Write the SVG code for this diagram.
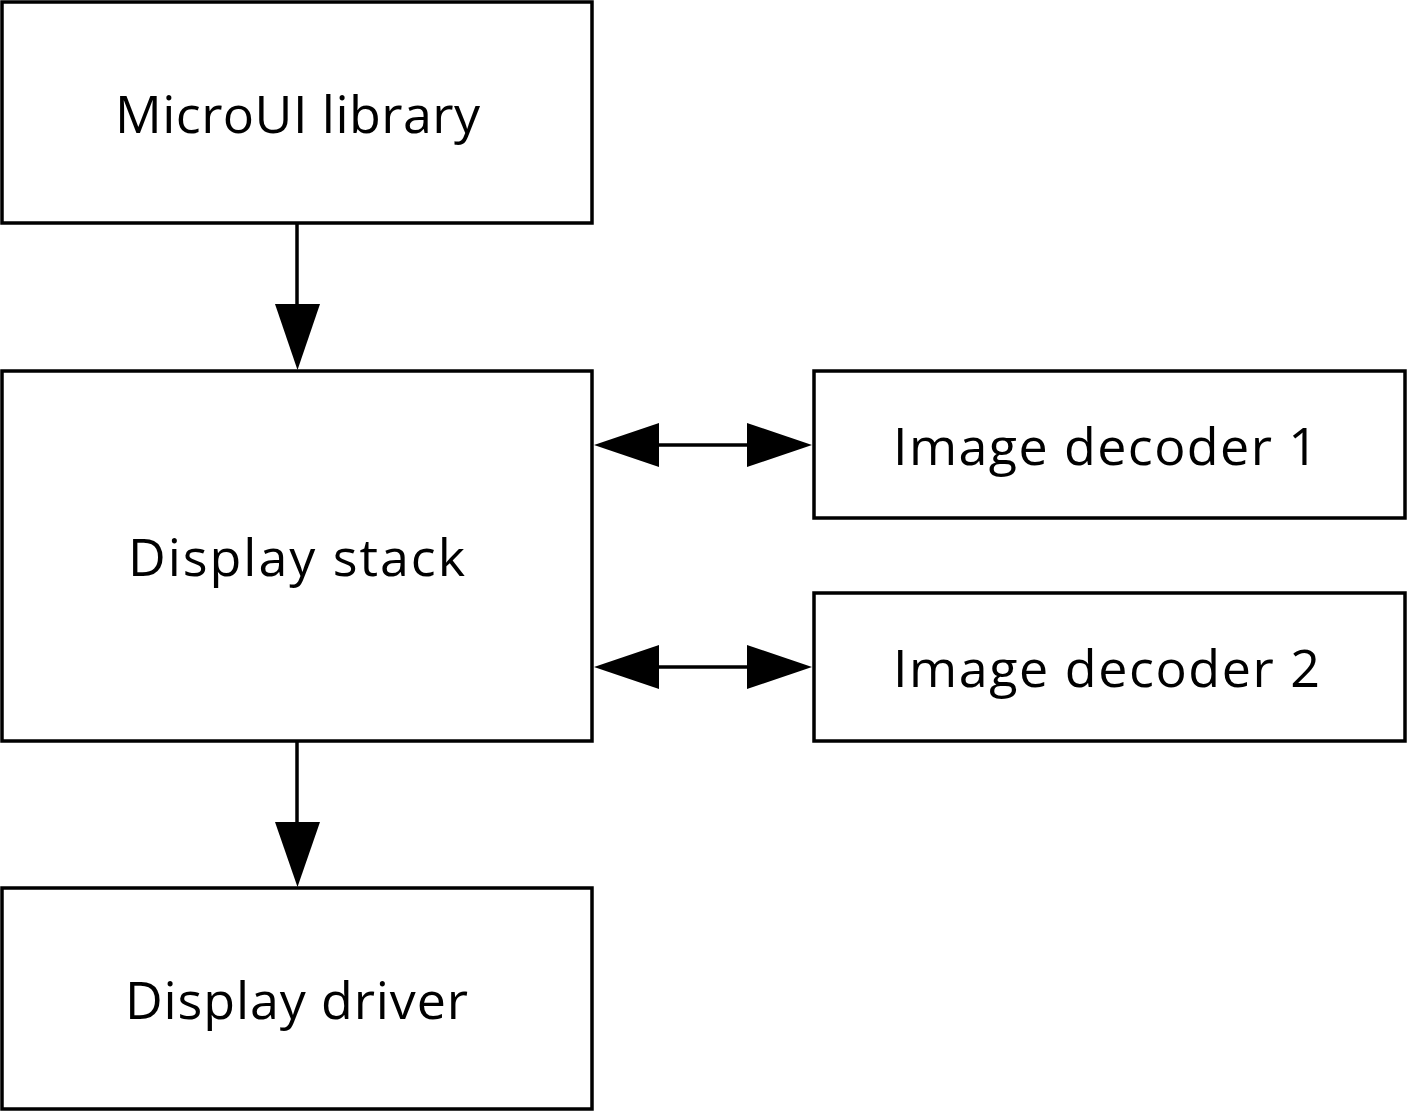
<svg xmlns="http://www.w3.org/2000/svg" width="1408" height="1113" viewBox="0 0 1408 1113">
<defs>
<style>
.box{fill:#fff;stroke:#000;stroke-width:3.5}
.lbl{font-family:"Open Sans","Noto Sans","DejaVu Sans",sans-serif;font-size:52px;fill:#000;text-anchor:middle}
.ln{stroke:#000;stroke-width:3.5;fill:none}
.ah{fill:#000;stroke:none}
</style>
</defs>
<rect width="1408" height="1113" fill="#fff"/>
<g id="microui">
<rect class="box" x="2" y="2" width="590" height="221"/>
<text class="lbl" x="297.5" y="133" textLength="365" lengthAdjust="spacing">MicroUI library</text>
</g>
<g id="display-stack">
<rect class="box" x="2" y="371" width="590" height="370"/>
<text class="lbl" x="296.5" y="576" textLength="337" lengthAdjust="spacing">Display stack</text>
</g>
<g id="display-driver">
<rect class="box" x="2" y="888" width="590" height="221"/>
<text class="lbl" x="296.5" y="1019" textLength="343" lengthAdjust="spacing">Display driver</text>
</g>
<g id="decoder1">
<rect class="box" x="814" y="371" width="591" height="147"/>
<text class="lbl" x="1105.5" y="465" textLength="425" lengthAdjust="spacing">Image decoder 1</text>
</g>
<g id="decoder2">
<rect class="box" x="814" y="593" width="591" height="148"/>
<text class="lbl" x="1106.5" y="687" textLength="427" lengthAdjust="spacing">Image decoder 2</text>
</g>
<g id="connectors">
<line class="ln" x1="297" y1="224" x2="297" y2="306"/>
<polygon class="ah" points="275,304 320,304 297.5,370"/>
<line class="ln" x1="297" y1="741" x2="297" y2="824"/>
<polygon class="ah" points="275,822 320,822 297.5,887"/>
<line class="ln" x1="655" y1="445" x2="750" y2="445"/>
<polygon class="ah" points="594,445 659,423 659,467"/>
<polygon class="ah" points="812,445 747,423 747,467"/>
<line class="ln" x1="655" y1="667" x2="750" y2="667"/>
<polygon class="ah" points="594,667 659,645 659,689"/>
<polygon class="ah" points="812,667 747,645 747,689"/>
</g>
</svg>
